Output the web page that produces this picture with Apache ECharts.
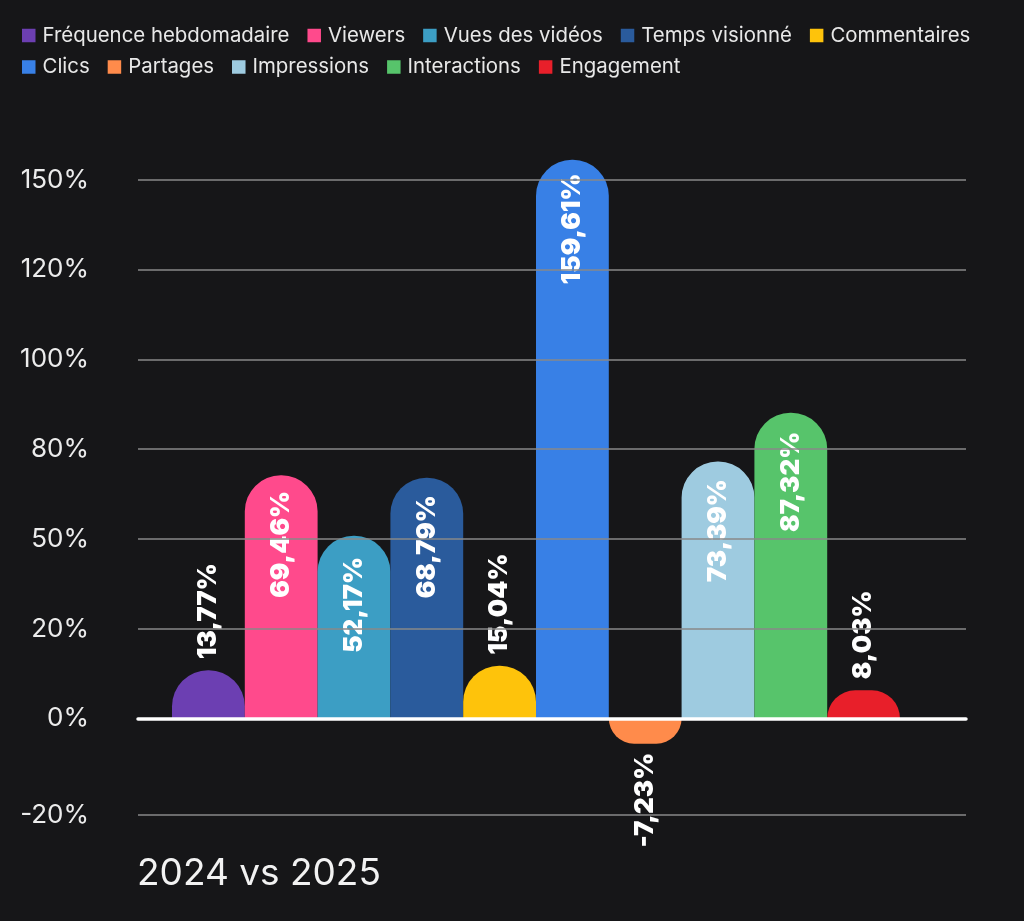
<!DOCTYPE html>
<html><head><meta charset="utf-8">
<script src="https://cdn.jsdelivr.net/npm/echarts@6/dist/echarts.min.js"></script>
<style>html,body{margin:0;padding:0;background:#161618;} #c{width:1024px;height:921px;}</style>
</head><body><div id="c"></div>
<script>
const categories = ['Fréquence hebdomadaire','Viewers','Vues des vidéos','Temps visionné','Commentaires','Clics','Partages','Impressions','Interactions','Engagement'];
const values = [13.77, 69.46, 52.17, 68.79, 15.04, 159.61, -7.23, 73.39, 87.32, 8.03];
const colors = ['#6c3fb2','#ff4a8c','#3c9ec4','#2a5b9c','#fec30b','#3880e6','#ff8b4b','#9ecbe0','#57c46b','#e81f2a'];
const tickValues = [153.9, 128.3, 102.6, 77, 51.3, 25.6, 0, -27.6];
const tickLabels = ['150%','120%','100%','80%','50%','20%','0%','-20%'];
const titleText = '2024 vs 2025';

const fmt = p => p.value.toFixed(2).replace('.', ',') + '%';
const FONT = 'Inter';

const barSeries = categories.map((name, i) => {
  const v = values[i];
  let pos;
  if (v < 0) pos = {position: 'bottom', align: 'right', distance: 9};
  else if (v < 20) pos = {position: 'top', align: 'left', distance: 11};
  else pos = {position: ['50%', 69], align: 'center'};
  return {
    name: name, type: 'bar', xAxisIndex: 1, yAxisIndex: 1,
    barGap: '0%', barCategoryGap: '0%', z: 2,
    itemStyle: {color: colors[i], borderRadius: v < 0 ? [0, 0, 36, 36] : [36, 36, 0, 0]},
    label: Object.assign({show: true, rotate: 90, verticalAlign: 'middle', color: '#ffffff',
      fontFamily: FONT, fontWeight: 900, fontSize: 26, formatter: fmt}, pos),
    data: [v]
  };
});

const gridSeries = {
  type: 'line', xAxisIndex: 0, yAxisIndex: 0, data: ['-'], silent: true, z: 1,
  markLine: {
    silent: true, symbol: 'none', animation: false,
    lineStyle: {color: '#888888', width: 1.5, type: 'solid'},
    label: {show: true, position: 'start', distance: 49, formatter: '{b}', color: '#ececec',
      fontFamily: FONT, fontSize: 26, padding: [0, 0, 18, 0]},
    emphasis: {disabled: true},
    data: tickValues.map((v, i) => ({yAxis: v, name: tickLabels[i]}))
  }
};

const legendBase = {left: 22, padding: 0, icon: 'rect', itemWidth: 13.5, itemHeight: 13.5, itemGap: 18,
  selectedMode: false,
  textStyle: {color: '#e8e8e8', fontFamily: FONT, fontSize: 20.4, padding: [0, 0, 0, 2]}};

const chart = echarts.init(document.getElementById('c'));
chart.setOption({
  backgroundColor: '#161618',
  animation: false,
  title: {text: titleText, left: 137, top: 855, padding: 0,
    textStyle: {color: '#f2f2f2', fontFamily: FONT, fontWeight: 400, fontSize: 37}},
  legend: [
    Object.assign({data: categories.slice(0, 5), top: 25.5}, legendBase),
    Object.assign({data: categories.slice(5), top: 57}, legendBase)
  ],
  grid: [
    {left: 138, right: 58, top: 141, bottom: 106},
    {left: 172, right: 124, top: 141, bottom: 106}
  ],
  xAxis: [
    {gridIndex: 0, type: 'category', data: [''], z: 10,
      axisLine: {show: true, onZero: true, lineStyle: {color: '#ffffff', width: 3.5}},
      axisTick: {show: false}, axisLabel: {show: false}, splitLine: {show: false}},
    {gridIndex: 1, type: 'category', data: [''], show: false}
  ],
  yAxis: [
    {gridIndex: 0, type: 'value', min: -27.6, max: 165,
      axisLine: {show: false}, axisTick: {show: false}, axisLabel: {show: false}, splitLine: {show: false}},
    {gridIndex: 1, type: 'value', min: -27.6, max: 165, show: false, splitLine: {show: false}}
  ],
  series: [gridSeries].concat(barSeries)
});
</script></body></html>
